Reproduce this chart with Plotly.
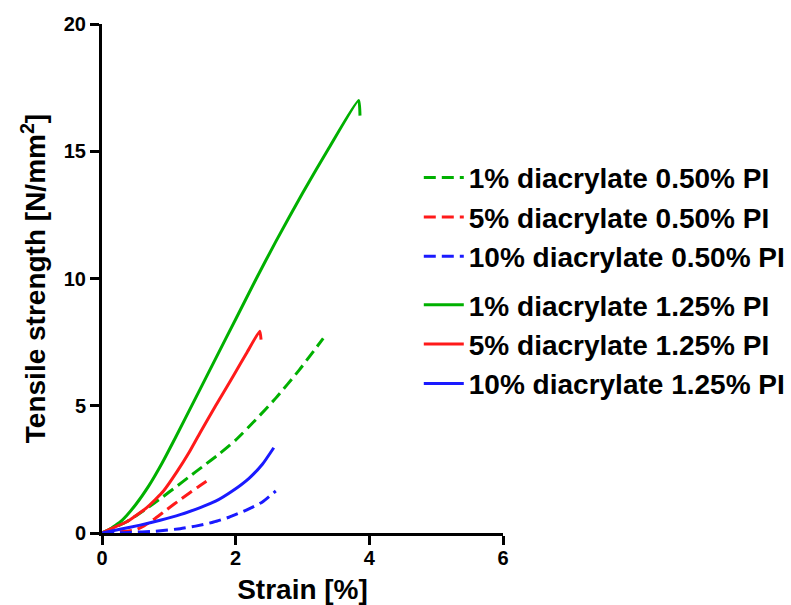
import plotly.graph_objects as go

# Stress-strain curves, strain in %, tensile strength in N/mm^2
labels = [
    "1% diacrylate 0.50% PI",
    "5% diacrylate 0.50% PI",
    "10% diacrylate 0.50% PI",
    "1% diacrylate 1.25% PI",
    "5% diacrylate 1.25% PI",
    "10% diacrylate 1.25% PI",
]
colors = ["#00b000", "#ff1a1a", "#1a1aff", "#00b000", "#ff1a1a", "#1a1aff"]
dashes = ["12px,6px", "12px,6px", "12px,6px", "solid", "solid", "solid"]
groups = ["pi050", "pi050", "pi050", "pi125", "pi125", "pi125"]

# 0.50% PI
strain_1_050 = [0, 0.12, 0.37, 0.67, 0.9, 1.1, 1.3, 1.5, 1.75, 2.0, 2.3, 2.6, 2.95, 3.31]
stress_1_050 = [0, 0.15, 0.44, 0.97, 1.4, 1.8, 2.2, 2.6, 3.1, 3.65, 4.45, 5.3, 6.4, 7.65]

strain_5_050 = [0, 0.2, 0.4, 0.5, 0.6, 0.7, 0.8, 0.97, 1.19, 1.42, 1.57]
stress_5_050 = [0, 0.03, 0.08, 0.12, 0.24, 0.4, 0.58, 0.92, 1.35, 1.78, 2.05]

strain_10_050 = [0, 0.4, 0.8, 1.17, 1.4, 1.67, 1.9, 2.16, 2.4, 2.6]
stress_10_050 = [0, 0.02, 0.07, 0.17, 0.27, 0.43, 0.62, 0.9, 1.22, 1.65]

# 1.25% PI
strain_1_125 = [0, 0.1, 0.3, 0.5, 0.7, 0.9, 1.1, 1.4, 1.7, 2.0, 2.3, 2.6, 3.0, 3.4, 3.84, 3.86]
stress_1_125 = [0, 0.12, 0.5, 1.1, 1.85, 2.75, 3.75, 5.3, 6.85, 8.4, 9.95, 11.45, 13.35, 15.15, 17.0, 16.4]

strain_5_125 = [0, 0.12, 0.37, 0.67, 0.92, 1.12, 1.3, 1.47, 1.7, 1.96, 2.16, 2.36, 2.38]
stress_5_125 = [0, 0.15, 0.44, 1.0, 1.65, 2.4, 3.15, 3.95, 5.0, 6.15, 7.05, 7.93, 7.6]

strain_10_125 = [0, 0.27, 0.57, 0.87, 1.17, 1.47, 1.7, 1.95, 2.2, 2.4, 2.57]
stress_10_125 = [0, 0.15, 0.31, 0.5, 0.72, 1.0, 1.25, 1.65, 2.15, 2.7, 3.35]

xs = [strain_1_050, strain_5_050, strain_10_050, strain_1_125, strain_5_125, strain_10_125]
ys = [stress_1_050, stress_5_050, stress_10_050, stress_1_125, stress_5_125, stress_10_125]

x_ticks = [0, 2, 4, 6]
y_ticks = [0, 5, 10, 15, 20]

FONT = "Arial, Liberation Sans, sans-serif"

fig = go.Figure()
for lab, c, d, g, x, y in zip(labels, colors, dashes, groups, xs, ys):
    fig.add_trace(go.Scatter(
        x=x, y=y, mode="lines", name=lab, legendgroup=g,
        line=dict(color=c, width=3, dash=d, shape="spline", smoothing=0.5),
        cliponaxis=False,
    ))

axis_common = dict(
    showline=True, linecolor="black", linewidth=3,
    ticks="outside", ticklen=9, tickwidth=3, tickcolor="black",
    showgrid=False, zeroline=False, automargin=False,
    tickfont=dict(family=FONT, size=20, color="black"),
)

fig.update_layout(
    width=791, height=605,
    margin=dict(l=102, r=288, t=24, b=72, autoexpand=False),
    paper_bgcolor="white", plot_bgcolor="white",
    font=dict(family=FONT, color="black"),
    xaxis=dict(range=[0, 6], tickvals=x_ticks,
               ticktext=[f"<b>{v}</b>" for v in x_ticks], ticklabelstandoff=-4,
               title=dict(text="<b>Strain [%]</b>", standoff=18,
                          font=dict(family=FONT, size=28, color="black")),
               **axis_common),
    yaxis=dict(range=[0, 20], tickvals=y_ticks,
               ticktext=[f"<b>{v}</b>" for v in y_ticks],
               title=dict(text="<b>Tensile strength [N/mm<sup>2</sup>]</b>", standoff=10,
                          font=dict(family=FONT, size=28, color="black")),
               **axis_common),
    legend=dict(
        x=0.79, xanchor="left", y=0.747, yanchor="top",
        traceorder="grouped", tracegroupgap=9,
        font=dict(family=FONT, size=28, color="black", weight="bold"),
        bgcolor="rgba(0,0,0,0)", itemwidth=40,
    ),
    showlegend=True,
)

fig.write_html("out.html")
